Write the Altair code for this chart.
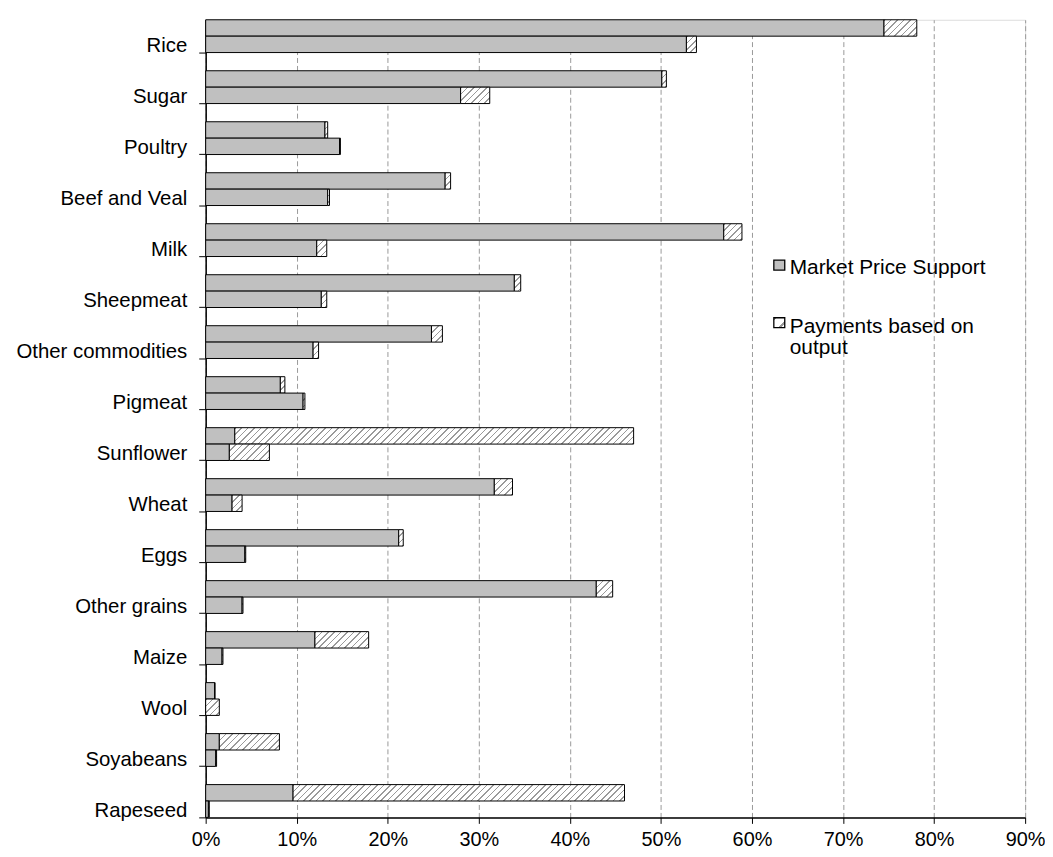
import altair as alt

# ---------------- data ----------------
commodities = ["Rice", "Sugar", "Poultry", "Beef and Veal", "Milk", "Sheepmeat",
               "Other commodities", "Pigmeat", "Sunflower", "Wheat", "Eggs",
               "Other grains", "Maize", "Wool", "Soyabeans", "Rapeseed"]
periods = ["1986-88", "2003-05"]          # upper bar, lower bar
series = ["Market Price Support", "Payments based on output"]

# upper bar of each pair (%)
mps_upper = [74.5, 50.1, 13.1, 26.3, 56.9, 33.9, 24.8, 8.2, 3.2, 31.7, 21.2, 42.9, 12.0, 1.0, 1.5, 9.6]
pbo_upper = [3.6, 0.5, 0.3, 0.6, 2.0, 0.7, 1.2, 0.5, 43.8, 2.0, 0.5, 1.8, 5.9, 0.0, 6.6, 36.4]
# lower bar of each pair (%)
mps_lower = [52.8, 28.0, 14.7, 13.4, 12.2, 12.7, 11.8, 10.7, 2.6, 2.9, 4.3, 4.0, 1.8, 0.0, 1.1, 0.3]
pbo_lower = [1.1, 3.2, 0.1, 0.2, 1.1, 0.6, 0.6, 0.2, 4.4, 1.1, 0.1, 0.1, 0.1, 1.5, 0.1, 0.1]

x_ticks = list(range(0, 91, 10))

# ---------------- styling ----------------
FONT = "Liberation Sans"
GREY = "#C0C0C0"
PLOT_W, PLOT_H = 825, 803
PAD_INNER = 0.357
PX_PER_UNIT = PLOT_W / 90.0
BAR_H = PLOT_H / (len(commodities) - PAD_INNER) * (1 - PAD_INNER) / 2


def hatch(w, h, period=6.5, frac=0.24, line="#9a9a9a", bg="#ffffff"):
    """Diagonal '/' hatch as a linear gradient in the rect's bounding box."""
    w = max(w, 0.01)
    L = w + h
    den = w * w + h * h
    n = L / period
    stops = []
    k = 0
    while k < n:
        a = k / n
        b = min((k + frac) / n, 1.0)
        e = min((k + 1) / n, 1.0)
        stops += [{"offset": a, "color": line}, {"offset": b, "color": line},
                  {"offset": b, "color": bg}, {"offset": e, "color": bg}]
        k += 1
    return {"gradient": "linear", "x1": 0, "y1": 0,
            "x2": L * w / den, "y2": L * h / den, "stops": stops}


rows = []
for i, c in enumerate(commodities):
    for p, mps, pbo in ((periods[0], mps_upper, pbo_upper), (periods[1], mps_lower, pbo_lower)):
        rows.append({"commodity": c, "period": p, "series": series[0], "order": 0,
                     "value": mps[i], "fill": GREY})
        rows.append({"commodity": c, "period": p, "series": series[1], "order": 1,
                     "value": pbo[i], "fill": hatch(pbo[i] * PX_PER_UNIT, BAR_H)})

bars = alt.Chart(alt.Data(values=rows)).transform_stack(
    stack="value", groupby=["commodity", "period"], as_=["x0", "x1"],
    sort=[alt.SortField("order")]
).mark_bar(stroke="black", strokeWidth=1).encode(
    y=alt.Y("commodity:N", sort=commodities, title=None,
            scale=alt.Scale(paddingInner=PAD_INNER, paddingOuter=0),
            axis=alt.Axis(bandPosition=1, labelBaseline="middle", labelOffset=10,
                          tickSize=7, labelPadding=12, labelFontSize=20.5, labelFont=FONT,
                          labelColor="black", tickColor="black", domainColor="black",
                          domainWidth=1.5, grid=False)),
    yOffset=alt.YOffset("period:N", sort=periods,
                        scale=alt.Scale(paddingInner=0, paddingOuter=0)),
    x=alt.X("x0:Q", title=None, scale=alt.Scale(domain=[0, 90], nice=False),
            axis=alt.Axis(values=x_ticks, labelExpr="datum.value + '%'", tickSize=6,
                          labelPadding=6, labelFontSize=20, labelFont=FONT,
                          labelColor="black", tickColor="black", domainColor="black",
                          domainWidth=1.5, labelFlush=False, grid=True,
                          gridColor="#999999", gridDash=[5, 3], gridWidth=1)),
    x2="x1:Q",
    fill=alt.Fill("fill:N", scale=None),
)

legend_data = alt.Data(values=[{"series": s} for s in series])

leg_sq1 = alt.Chart(legend_data).transform_filter(
    alt.datum.series == series[0]
).mark_rect(stroke="black", strokeWidth=1.3, fill=GREY).encode(
    x=alt.value(572), x2=alt.value(583), y=alt.value(242), y2=alt.value(252))

leg_sq2 = alt.Chart(legend_data).transform_filter(
    alt.datum.series == series[1]
).mark_rect(stroke="black", strokeWidth=1.3, fill=hatch(11, 10, period=14, frac=0.2)).encode(
    x=alt.value(572), x2=alt.value(583), y=alt.value(300), y2=alt.value(310))

leg_txt1 = alt.Chart(legend_data).transform_filter(
    alt.datum.series == series[0]
).mark_text(align="left", baseline="alphabetic", fontSize=21, font=FONT, color="black").encode(
    x=alt.value(588), y=alt.value(256), text="series:N")

leg_txt2 = alt.Chart(legend_data).transform_filter(
    alt.datum.series == series[1]
).transform_calculate(
    label="replace(datum.series, ' output', '\\noutput')"
).mark_text(align="left", baseline="alphabetic", fontSize=21, font=FONT, color="black",
            lineBreak="\n", lineHeight=21.6).encode(
    x=alt.value(588), y=alt.value(315), text="label:N")

chart = alt.layer(bars, leg_sq1, leg_sq2, leg_txt1, leg_txt2).properties(
    width=PLOT_W, height=PLOT_H,
    padding={"left": 199, "top": 9, "right": 20, "bottom": 34},
    autosize=alt.AutoSizeParams(type="none"),
).configure_view(stroke="black", strokeWidth=1).configure(font=FONT)

chart.save("out.html", embed_options={"renderer": "svg", "actions": False})
